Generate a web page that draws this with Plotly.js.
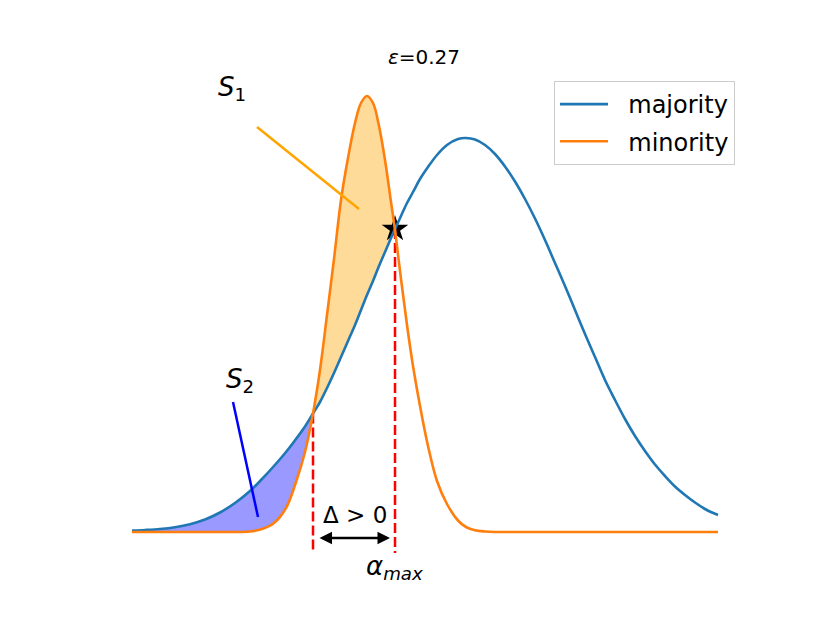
<!DOCTYPE html>
<html>
<head>
<meta charset="utf-8">
<script src="https://cdn.plot.ly/plotly-3.0.1.min.js"></script>
<style>html,body{margin:0;padding:0;background:#fff}#chart{width:830px;height:623px}</style>
</head>
<body>
<div id="chart"></div>
<script>
// positions (x = offset from left end of the curves, y = height above baseline)
var xs = [0, 13, 28, 43, 58, 73, 88, 103, 118, 130, 142, 154, 164, 173, 181, 188, 195, 202, 209, 216,
  223, 229, 235, 241, 247, 253, 259, 263, 269, 275, 281, 288, 296, 305, 315, 326, 334, 343, 353, 363,
  373, 383, 393, 403, 413, 423, 433, 443, 453, 463, 473, 483, 493, 503, 513, 523, 533, 543, 553, 563,
  573, 580, 586];
var majority = [1.4, 2, 3, 4.8, 7.8, 12.5, 19.5, 29, 41, 53, 66, 80, 93, 105.5, 118.5, 130, 144, 159, 175, 191,
  207, 222, 237, 251, 266, 280, 294, 303, 316, 329, 340, 353, 365, 377, 387, 393, 394, 392.5, 387, 378,
  365.5, 350.5, 333, 313.5, 292, 269, 246, 222, 198, 175, 152, 132, 113, 96, 81, 67.5, 56, 45.5, 37, 29.5,
  23, 19.5, 17];
var minority = [0, 0, 0, 0, 0, 0, 0, 0, 0.5, 3, 9, 24, 50, 80, 118.5, 162, 217, 273, 332, 374,
  409, 429, 436, 429, 406, 372, 330, 302, 253, 207, 166, 126, 86, 51, 28, 11.5, 5, 1.8, 0.5, 0,
  0, 0, 0, 0, 0, 0, 0, 0, 0, 0, 0, 0, 0, 0, 0, 0, 0, 0, 0, 0,
  0, 0, 0];
var crossX = 181;     // where the curves cross on the left
var alphaMax = 263;   // alpha_max
var titleText = "<i>ε</i>=0.27";

var C = { blue: "#1f77b4", orange: "#ff7f0e", red: "#ff0000" };
var font = "DejaVu Sans, sans-serif";

function region(lo, hi, top, bottom) {
  var px = [], py = [], i;
  for (i = 0; i < xs.length; i++) if (xs[i] >= lo && xs[i] <= hi) { px.push(xs[i]); py.push(top[i]); }
  for (i = xs.length - 1; i >= 0; i--) if (xs[i] >= lo && xs[i] <= hi) { px.push(xs[i]); py.push(bottom[i]); }
  return { x: px, y: py };
}
var s1 = region(crossX, alphaMax, minority, majority);
var s2 = region(xs[0], crossX, majority, minority);
var iCross = xs.indexOf(crossX), iMax = xs.indexOf(alphaMax);
var curve = { width: 2.6, shape: "spline", smoothing: 1 };

var traces = [
  { x: s1.x, y: s1.y, fill: "toself", fillcolor: "rgba(255,165,0,0.4)", mode: "lines", line: { width: 0, shape: "spline", smoothing: 1 }, showlegend: false, hoverinfo: "skip" },
  { x: s2.x, y: s2.y, fill: "toself", fillcolor: "rgba(0,0,255,0.4)", mode: "lines", line: { width: 0, shape: "spline", smoothing: 1 }, showlegend: false, hoverinfo: "skip" },
  { x: [alphaMax], y: [majority[iMax]], mode: "markers", marker: { symbol: "star", size: 20, color: "#000" }, showlegend: false },
  { x: [crossX, crossX], y: [majority[iCross], -21], mode: "lines", line: { color: C.red, width: 2.5, dash: "10px,4px" }, showlegend: false },
  { x: [alphaMax, alphaMax], y: [majority[iMax], -21], mode: "lines", line: { color: C.red, width: 2.5, dash: "10px,4px" }, showlegend: false },
  { name: "\u00a0\u00a0majority", x: xs, y: majority, mode: "lines", line: Object.assign({ color: C.blue }, curve), legendgroup: "a" },
  { name: "\u00a0\u00a0minority", x: xs, y: minority, mode: "lines", line: Object.assign({ color: C.orange }, curve), legendgroup: "b" }
];

var layout = {
  width: 830, height: 623,
  margin: { l: 0, r: 0, t: 0, b: 0 },
  paper_bgcolor: "#fff", plot_bgcolor: "#fff",
  font: { family: font, color: "#000" },
  title: { text: titleText, font: { size: 20 }, x: 424 / 830, xanchor: "center", y: 1 - 57 / 623, yanchor: "middle", xref: "paper", yref: "container" },
  xaxis: { range: [-132, 698], visible: false, fixedrange: true },
  yaxis: { range: [-91, 532], visible: false, fixedrange: true },
  showlegend: true,
  legend: { x: 735 / 830, xanchor: "right", y: 1 - 81 / 623, yanchor: "top", font: { size: 24 }, bgcolor: "#fff",
    bordercolor: "#cccccc", borderwidth: 1, traceorder: "grouped", tracegroupgap: 3, itemwidth: 48 },
  shapes: [
    { type: "line", xref: "x", yref: "y", x0: 125, y0: 405, x1: 227, y1: 323, line: { color: "#ffa500", width: 2.5 } },
    { type: "line", xref: "x", yref: "y", x0: 101, y0: 130, x1: 126, y1: 15, line: { color: "#0000ff", width: 2.5 } }
  ],
  annotations: [
    { x: 100, y: 444, text: "<i>S</i><sub>1</sub>", showarrow: false, font: { size: 26 } },
    { x: 108, y: 152, text: "<i>S</i><sub>2</sub>", showarrow: false, font: { size: 26 } },
    { x: 223, y: 17, text: "Δ > 0", showarrow: false, font: { size: 23 } },
    { x: 262, y: -35, text: "<i>α</i><sub><i>max</i></sub>", showarrow: false, font: { size: 26 } },
    { x: 258, y: -6, ax: 186, ay: -6, axref: "x", ayref: "y", text: "", showarrow: true,
      arrowhead: 2, arrowside: "end+start", arrowsize: 1, arrowwidth: 2.5, arrowcolor: "#000", standoff: 0, startstandoff: 0 }
  ]
};

Plotly.newPlot("chart", traces, layout, { displayModeBar: false, staticPlot: true });
</script>
</body>
</html>
